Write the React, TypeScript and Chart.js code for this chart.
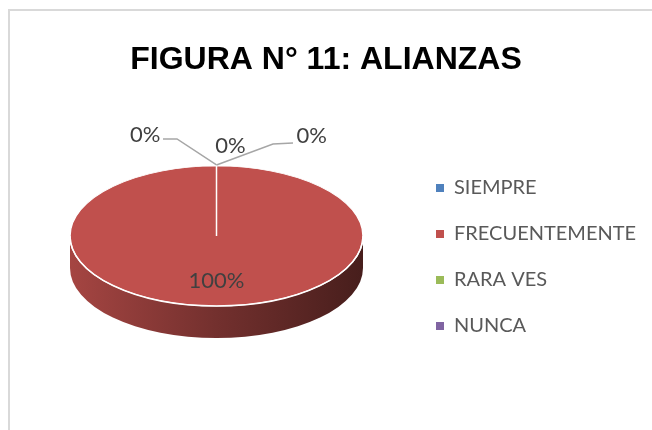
import React, { useEffect, useRef } from 'react';
import { Chart, registerables } from 'chart.js';

Chart.register(...registerables);

// ---------- data ----------
const TITLE = 'FIGURA N° 11: ALIANZAS';
const categories = ['SIEMPRE', 'FRECUENTEMENTE', 'RARA VES', 'NUNCA'];
const values = [0, 100, 0, 0];
const colors = ['#4F81BD', '#C0504D', '#9BBB59', '#8064A2'];

// ---------- style ----------
const W = 652;
const H = 430;
const LABEL_FONT = 'Lato, "Open Sans", sans-serif';
const TITLE_FONT = 'bold 32px "Liberation Sans", Arial, sans-serif';
const TITLE_Y = 59.7;
const TITLE_AREA = 88.75;
const LEGEND_FONT_SIZE = 20;
const LEGEND_PAD = 26;
const LEGEND_BOX = 8;
const LEGEND_BOX_X = 436;
const PIE_CX = 216.5;
const TILT = 0.478; // vertical squash of the pie top
const DEPTH = 32; // thickness of the 3D side
// label placement for zero-value slices, relative to the slice's rim anchor
const ZERO_LABELS = [
  { line: [[-39.5, -26], [-53.5, -26]], tx: -56, ty: -30, align: 'right' },
  { line: null, tx: 14, ty: -19, align: 'center' },
  { line: [[56.5, -21], [76.5, -22]], tx: 80, ty: -29, align: 'left' },
];

function shade(hex: string, f: number) {
  const n = parseInt(hex.slice(1), 16);
  const r = Math.round(((n >> 16) & 255) * f);
  const g = Math.round(((n >> 8) & 255) * f);
  const b = Math.round((n & 255) * f);
  return `rgb(${r},${g},${b})`;
}

const centeredTitle = {
  id: 'centeredTitle',
  afterDraw(chart: any) {
    const ctx = chart.ctx as CanvasRenderingContext2D;
    ctx.save();
    ctx.font = TITLE_FONT;
    ctx.fillStyle = '#000000';
    ctx.textAlign = 'center';
    ctx.textBaseline = 'middle';
    ctx.fillText(TITLE, chart.width / 2, TITLE_Y);
    ctx.restore();
  },
};

const pie3d = {
  id: 'pie3d',
  beforeDatasetsDraw(chart: any) {
    const meta = chart.getDatasetMeta(0);
    const arcs = meta.data;
    if (!arcs.length) return;
    const { x: cx, y: cy, outerRadius: r } = arcs[0].getProps(['x', 'y', 'outerRadius'], true);
    const ry = r * TILT;
    const ctx = chart.ctx as CanvasRenderingContext2D;
    ctx.save();
    arcs.forEach((arc: any, i: number) => {
      const { startAngle, endAngle, circumference } = arc.getProps(
        ['startAngle', 'endAngle', 'circumference'],
        true
      );
      if (circumference <= 0) return;
      const grad = ctx.createLinearGradient(cx - r, 0, cx + r, 0);
      grad.addColorStop(0, shade(colors[i], 0.86));
      grad.addColorStop(0.5, shade(colors[i], 0.6));
      grad.addColorStop(1, shade(colors[i], 0.37));
      ctx.fillStyle = grad;
      for (let k = -1; k <= 2; k++) {
        const a0 = Math.max(startAngle, 2 * Math.PI * k);
        const a1 = Math.min(endAngle, Math.PI + 2 * Math.PI * k);
        if (a1 <= a0) continue;
        ctx.beginPath();
        ctx.ellipse(cx, cy, r, ry, 0, a0, a1);
        ctx.lineTo(cx + r * Math.cos(a1), cy + ry * Math.sin(a1) + DEPTH);
        ctx.ellipse(cx, cy + DEPTH, r, ry, 0, a1, a0, true);
        ctx.closePath();
        ctx.fill();
      }
    });
    ctx.restore();
    ctx.save();
    ctx.translate(0, cy);
    ctx.scale(1, TILT);
    ctx.translate(0, -cy);
  },
  afterDatasetsDraw(chart: any) {
    const ctx = chart.ctx as CanvasRenderingContext2D;
    ctx.restore();
    const meta = chart.getDatasetMeta(0);
    const arcs = meta.data;
    if (!arcs.length) return;
    const { x: cx, y: cy, outerRadius: r } = arcs[0].getProps(['x', 'y', 'outerRadius'], true);
    const ry = r * TILT;
    // white rim on the front edge
    ctx.save();
    ctx.strokeStyle = '#ffffff';
    ctx.lineWidth = 1.5;
    ctx.beginPath();
    ctx.ellipse(cx, cy, r, ry, 0, 0, Math.PI);
    ctx.stroke();
    ctx.restore();

    const total = values.reduce((a, b) => a + b, 0);
    let z = 0;
    ctx.save();
    ctx.font = `22px ${LABEL_FONT}`;
    ctx.fillStyle = '#404040';
    ctx.textBaseline = 'middle';
    arcs.forEach((arc: any, i: number) => {
      const { startAngle, endAngle, circumference } = arc.getProps(
        ['startAngle', 'endAngle', 'circumference'],
        true
      );
      const pct = Math.round((values[i] / total) * 100) + '%';
      if (circumference > 0.3) {
        const m = (startAngle + endAngle) / 2;
        ctx.textAlign = 'center';
        ctx.fillText(pct, cx + r * 0.63 * Math.cos(m), cy + ry * 0.64 * Math.sin(m));
      } else {
        const ax = cx + r * Math.cos(startAngle);
        const ay = cy + ry * Math.sin(startAngle) - 1;
        const o = ZERO_LABELS[z++ % ZERO_LABELS.length];
        if (o.line) {
          ctx.strokeStyle = '#a6a6a6';
          ctx.lineWidth = 1.5;
          ctx.beginPath();
          ctx.moveTo(ax, ay);
          o.line.forEach((p) => ctx.lineTo(ax + p[0], ay + p[1]));
          ctx.stroke();
        }
        ctx.textAlign = o.align as CanvasTextAlign;
        ctx.fillText(pct, ax + o.tx, ay + o.ty);
      }
    });
    ctx.restore();
  },
};

export default function App() {
  const ref = useRef<HTMLCanvasElement>(null);
  useEffect(() => {
    const canvas = ref.current!;
    const mctx = canvas.getContext('2d')!;
    mctx.font = `${LEGEND_FONT_SIZE}px ${LABEL_FONT}`;
    const maxW = Math.max(...categories.map((c) => mctx.measureText(c).width));
    const legendW = LEGEND_PAD + LEGEND_BOX + LEGEND_FONT_SIZE / 2 + maxW + 10;
    const legendLeft = LEGEND_BOX_X - LEGEND_PAD;
    const padRight = Math.max(0, W - legendLeft - legendW);
    const padLeft = 2 * PIE_CX - legendLeft;

    const chart = new Chart(canvas, {
      type: 'pie',
      data: {
        labels: categories,
        datasets: [
          {
            data: values,
            backgroundColor: colors,
            borderColor: '#ffffff',
            borderWidth: 1.5,
            hoverBorderWidth: 1.5,
            hoverOffset: 0,
            clip: false,
          } as any,
        ],
      },
      options: {
        responsive: false,
        animation: false,
        events: [],
        layout: { padding: { left: padLeft, right: padRight, top: TITLE_AREA, bottom: 46.75 } },
        plugins: {
          title: { display: false },
          legend: {
            position: 'right',
            align: 'center',
            fullSize: false,
            title: { display: true, text: '', font: { size: 10 }, padding: { top: 30, bottom: 0 } },
            labels: {
              boxWidth: LEGEND_BOX,
              boxHeight: LEGEND_BOX,
              padding: LEGEND_PAD,
              color: '#595959',
              font: { family: LABEL_FONT, size: LEGEND_FONT_SIZE },
              generateLabels: () =>
                categories.map((t, i) => ({
                  text: t,
                  fillStyle: colors[i],
                  strokeStyle: colors[i],
                  lineWidth: 0,
                  hidden: false,
                  index: i,
                  fontColor: '#595959',
                })),
            },
          },
          tooltip: { enabled: false },
        },
      },
      plugins: [pie3d, centeredTitle],
    });
    return () => chart.destroy();
  }, []);

  return (
    <>
      <div
        style={{
          position: 'fixed',
          left: 8,
          top: 9,
          width: 800,
          height: 600,
          border: '2px solid #d9d9d9',
          boxSizing: 'border-box',
        }}
      />
      <canvas
        ref={ref}
        width={W}
        height={H}
        style={{ position: 'fixed', left: 0, top: 0, width: W, height: H }}
      />
    </>
  );
}
